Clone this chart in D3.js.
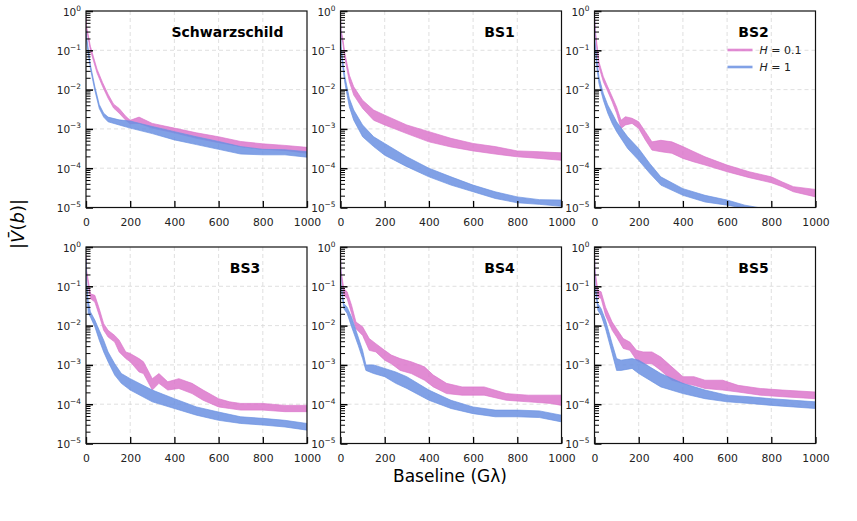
<!DOCTYPE html>
<html>
<head>
<script src="https://cdn.jsdelivr.net/npm/d3@7"></script>
<style>
html, body { margin: 0; padding: 0; background: #fff; }
svg { display: block; font-family: "DejaVu Sans", sans-serif; }
</style>
</head>
<body>
<div id="chart"></div>
<script>
// panel titles and legend labels
var panelNames = ["Schwarzschild", "BS1", "BS2", "BS3", "BS4", "BS5"];
var seriesNames = ["0.1", "1"];
var xTicks = [0, 200, 400, 600, 800, 1000];
var yDecades = [0, -1, -2, -3, -4, -5];

// bands: [baseline, log10 lower edge, log10 upper edge]
var schwH01 = [[0,-0.45,-0.1],[3,-0.48,-0.4],[20,-1.0,-0.9],[50,-1.58,-1.48],[75,-1.92,-1.82],[100,-2.22,-2.12],[125,-2.47,-2.37],[150,-2.6,-2.48],[180,-2.78,-2.68],[200,-2.87,-2.78],[240,-2.86,-2.7],[300,-2.98,-2.86],[400,-3.1,-2.98],[500,-3.24,-3.1],[600,-3.35,-3.2],[700,-3.45,-3.32],[800,-3.52,-3.38],[900,-3.55,-3.42],[1000,-3.62,-3.47]];
var schwH1 = [[0,-0.75,-0.5],[3,-0.8,-0.66],[20,-1.47,-1.37],[40,-2.02,-1.92],[60,-2.48,-2.38],[80,-2.7,-2.6],[100,-2.82,-2.7],[150,-2.9,-2.77],[200,-2.98,-2.8],[300,-3.12,-2.94],[400,-3.28,-3.07],[500,-3.4,-3.2],[600,-3.52,-3.32],[700,-3.64,-3.45],[800,-3.66,-3.52],[900,-3.66,-3.53],[1000,-3.72,-3.58]];
var bs1H01 = [[0,-0.6,-0.05],[3,-0.62,-0.5],[10,-0.8,-0.68],[20,-1.2,-1.08],[40,-1.8,-1.63],[60,-2.14,-1.93],[100,-2.48,-2.27],[150,-2.78,-2.52],[200,-2.9,-2.65],[300,-3.12,-2.9],[400,-3.33,-3.07],[500,-3.46,-3.24],[600,-3.56,-3.37],[700,-3.64,-3.45],[800,-3.71,-3.56],[900,-3.75,-3.58],[1000,-3.8,-3.61]];
var bs1H1 = [[0,-1.0,-0.1],[3,-1.05,-0.9],[10,-1.42,-1.25],[20,-1.84,-1.67],[40,-2.44,-2.22],[60,-2.78,-2.52],[100,-3.2,-2.9],[150,-3.45,-3.2],[200,-3.67,-3.37],[300,-3.96,-3.71],[400,-4.22,-4.0],[500,-4.43,-4.22],[600,-4.6,-4.43],[700,-4.77,-4.6],[800,-4.88,-4.73],[900,-4.92,-4.8],[1000,-4.97,-4.81]];
var bs2H01 = [[0,-0.6,-0.1],[5,-0.65,-0.55],[20,-1.42,-1.29],[40,-1.8,-1.67],[60,-2.05,-1.93],[80,-2.31,-2.18],[100,-2.6,-2.44],[120,-2.99,-2.78],[140,-2.9,-2.69],[170,-2.86,-2.73],[200,-2.99,-2.82],[230,-3.28,-3.07],[260,-3.54,-3.33],[300,-3.58,-3.29],[350,-3.62,-3.33],[400,-3.75,-3.45],[450,-3.84,-3.58],[500,-3.92,-3.71],[600,-4.09,-3.92],[700,-4.24,-4.09],[800,-4.37,-4.22],[850,-4.47,-4.35],[900,-4.6,-4.47],[1000,-4.73,-4.54]];
var bs2H1 = [[0,-0.9,-0.1],[3,-0.9,-0.78],[10,-1.42,-1.2],[20,-1.84,-1.67],[40,-2.27,-2.1],[60,-2.6,-2.39],[80,-2.86,-2.6],[100,-3.07,-2.82],[150,-3.5,-3.2],[200,-3.8,-3.5],[250,-4.13,-3.88],[300,-4.43,-4.22],[400,-4.69,-4.52],[500,-4.86,-4.69],[600,-4.94,-4.81],[680,-5.02,-4.94],[760,-5.12,-5.02]];
var bs3H01 = [[0,-0.7,-0.2],[3,-0.7,-0.6],[20,-1.31,-1.19],[40,-1.4,-1.23],[60,-1.74,-1.57],[80,-2.12,-1.95],[100,-2.29,-2.12],[130,-2.42,-2.25],[150,-2.67,-2.37],[180,-2.84,-2.67],[200,-2.92,-2.71],[240,-3.18,-2.84],[260,-3.22,-2.92],[300,-3.64,-3.35],[330,-3.47,-3.22],[370,-3.64,-3.43],[420,-3.6,-3.35],[480,-3.73,-3.47],[530,-3.9,-3.64],[600,-4.07,-3.86],[650,-4.11,-3.94],[700,-4.15,-3.98],[800,-4.15,-3.98],[900,-4.19,-4.03],[1000,-4.19,-4.03]];
var bs3H1 = [[0,-1.0,-0.3],[3,-1.0,-0.88],[10,-1.69,-1.36],[20,-1.78,-1.65],[40,-2.03,-1.86],[60,-2.37,-2.12],[80,-2.67,-2.37],[100,-2.92,-2.67],[130,-3.26,-2.97],[160,-3.47,-3.22],[200,-3.64,-3.35],[300,-3.94,-3.64],[400,-4.11,-3.86],[500,-4.28,-4.07],[600,-4.41,-4.2],[700,-4.49,-4.32],[800,-4.53,-4.36],[900,-4.58,-4.41],[1000,-4.66,-4.49]];
var bs4H01 = [[0,-0.75,-0.1],[3,-0.75,-0.62],[15,-1.23,-1.06],[30,-1.31,-1.14],[50,-1.69,-1.48],[70,-2.08,-1.91],[100,-2.25,-2.03],[130,-2.63,-2.33],[160,-2.67,-2.46],[200,-2.88,-2.63],[230,-2.97,-2.75],[270,-3.14,-2.84],[320,-3.22,-2.92],[380,-3.39,-3.05],[420,-3.56,-3.26],[480,-3.73,-3.47],[550,-3.77,-3.56],[650,-3.77,-3.56],[750,-3.9,-3.73],[850,-3.94,-3.77],[950,-3.98,-3.77],[1000,-4.03,-3.77]];
var bs4H1 = [[0,-1.05,-0.2],[3,-1.05,-0.95],[15,-1.57,-1.44],[30,-1.69,-1.53],[50,-2.03,-1.78],[80,-2.5,-2.29],[100,-2.84,-2.63],[115,-3.14,-3.0],[150,-3.22,-3.0],[200,-3.3,-3.09],[250,-3.47,-3.18],[300,-3.6,-3.3],[400,-3.9,-3.64],[500,-4.11,-3.9],[600,-4.24,-4.07],[700,-4.32,-4.15],[800,-4.32,-4.15],[900,-4.34,-4.17],[1000,-4.45,-4.28]];
var bs5H01 = [[0,-0.75,-0.1],[3,-0.75,-0.62],[15,-1.27,-1.1],[30,-1.31,-1.14],[50,-1.74,-1.53],[80,-2.12,-1.91],[100,-2.29,-2.08],[130,-2.58,-2.33],[160,-2.63,-2.42],[190,-2.88,-2.63],[220,-2.97,-2.67],[260,-2.97,-2.67],[300,-3.14,-2.8],[350,-3.39,-3.05],[400,-3.47,-3.3],[450,-3.52,-3.3],[500,-3.6,-3.39],[580,-3.64,-3.39],[650,-3.69,-3.52],[750,-3.77,-3.6],[850,-3.81,-3.64],[1000,-3.86,-3.69]];
var bs5H1 = [[0,-1.05,-0.2],[3,-1.05,-0.95],[15,-1.61,-1.44],[30,-1.74,-1.57],[50,-2.08,-1.86],[80,-2.71,-2.46],[100,-3.14,-2.84],[120,-3.14,-2.88],[170,-3.09,-2.84],[200,-3.22,-2.88],[250,-3.39,-3.05],[300,-3.56,-3.22],[400,-3.73,-3.47],[500,-3.86,-3.64],[600,-3.94,-3.77],[700,-3.98,-3.81],[800,-4.03,-3.86],[900,-4.07,-3.9],[1000,-4.11,-3.94]];

var panelData = [
    [schwH01, schwH1], [bs1H01, bs1H1], [bs2H01, bs2H1],
    [bs3H01, bs3H1], [bs4H01, bs4H1], [bs5H01, bs5H1]
];

var width = 857, height = 521;
var colors = ["#dc77cb", "#6b91e2"];
var colLeft = [86, 340.5, 594.5];
var rowTop = [11, 247];
var pw = 221, ph = 196.5;
var titleX = [0.64, 0.72, 0.72, 0.72, 0.72, 0.72];

var svg = d3.select("#chart").append("svg")
    .attr("width", width)
    .attr("height", height);

panelData.forEach(function(series, i){
    var left = colLeft[i % 3], top = rowTop[Math.floor(i / 3)];
    var g = svg.append("g").attr("transform", "translate(" + [left, top] + ")");

    var x = d3.scaleLinear().domain([0, 1000]).range([0, pw]);
    var y = d3.scaleLog().domain([1e-5, 1]).range([ph, 0]);

    // grid
    g.selectAll(".gx").data(xTicks.slice(1, -1)).enter().append("line")
        .attr("x1", function(d){ return x(d); }).attr("x2", function(d){ return x(d); })
        .attr("y1", 0).attr("y2", ph)
        .attr("stroke", "#d8d8d8").attr("stroke-width", 0.8).attr("stroke-dasharray", "4,3");
    g.selectAll(".gy").data(yDecades.slice(1, -1)).enter().append("line")
        .attr("y1", function(d){ return y(Math.pow(10, d)); }).attr("y2", function(d){ return y(Math.pow(10, d)); })
        .attr("x1", 0).attr("x2", pw)
        .attr("stroke", "#d8d8d8").attr("stroke-width", 0.8).attr("stroke-dasharray", "4,3");

    var clipId = "clip" + i;
    g.append("clipPath").attr("id", clipId).append("rect")
        .attr("width", pw).attr("height", ph);

    var area = d3.area()
        .x(function(d){ return x(d[0]); })
        .y0(function(d){ return y(Math.pow(10, d[1])); })
        .y1(function(d){ return y(Math.pow(10, d[2])); });

    var plot = g.append("g").attr("clip-path", "url(#" + clipId + ")");
    series.forEach(function(s, k){
        plot.append("path")
            .attr("d", area(s))
            .attr("fill", colors[k])
            .attr("fill-opacity", 0.85)
            .attr("stroke", colors[k])
            .attr("stroke-opacity", 0.85)
            .attr("stroke-width", 0.8);
    });

    // x axis, ticks pointing inward
    var xAxis = g.append("g").attr("transform", "translate(0," + ph + ")")
        .call(d3.axisBottom(x).tickValues(xTicks).tickSizeInner(-6.5).tickSizeOuter(0)
            .tickPadding(11).tickFormat(d3.format("d")));
    xAxis.select(".domain").remove();
    xAxis.selectAll("line").attr("stroke-width", 1.3);
    xAxis.selectAll("text").attr("font-size", 10.8).attr("fill", "#222")
        .attr("font-family", "DejaVu Sans");

    // y axis, majors and minors inward
    var majors = yDecades.map(function(d){ return Math.pow(10, d); });
    var minors = y.ticks().filter(function(v){
        return majors.every(function(m){ return Math.abs(v / m - 1) > 1e-6; });
    });
    var yAxis = g.append("g")
        .call(d3.axisLeft(y).tickValues(majors).tickSizeInner(-7).tickSizeOuter(0).tickFormat(""));
    yAxis.select(".domain").remove();
    yAxis.selectAll("line").attr("stroke-width", 1.5);
    var yMinor = g.append("g")
        .call(d3.axisLeft(y).tickValues(minors).tickSizeInner(-4.5).tickSizeOuter(0).tickFormat(""));
    yMinor.select(".domain").remove();
    yMinor.selectAll("line").attr("stroke-width", 1);

    var labels = g.selectAll(".ylab").data(yDecades).enter().append("text")
        .attr("x", -5)
        .attr("y", function(d){ return y(Math.pow(10, d)) + 4.5; })
        .attr("text-anchor", "end")
        .attr("fill", "#222");
    labels.append("tspan").attr("font-size", 10.5).text("10");
    labels.append("tspan").attr("font-size", 7.4).attr("dy", -5)
        .text(function(d){ return d === 0 ? "0" : "\u2212" + (-d); });

    // frame
    g.append("rect").attr("width", pw).attr("height", ph)
        .attr("fill", "none").attr("stroke", "#111").attr("stroke-width", 1.2);

    // title
    g.append("text")
        .attr("x", pw * titleX[i]).attr("y", 26)
        .attr("text-anchor", "middle")
        .attr("font-size", 14).attr("font-weight", "bold")
        .text(panelNames[i]);

    // legend in the third panel
    if (i === 2) {
        seriesNames.forEach(function(name, k){
            var ly = 39 + k * 17;
            g.append("line")
                .attr("x1", 133).attr("x2", 158)
                .attr("y1", ly).attr("y2", ly)
                .attr("stroke", colors[k]).attr("stroke-opacity", 0.85).attr("stroke-width", 2.6);
            var t = g.append("text").attr("x", 165).attr("y", ly + 4).attr("font-size", 11).attr("fill", "#222");
            t.append("tspan").attr("font-style", "italic").text("H");
            t.append("tspan").text(" = " + name);
        });
    }
});

// shared axis titles
svg.append("text")
    .attr("x", 450).attr("y", 482)
    .attr("text-anchor", "middle")
    .attr("font-size", 17)
    .text("Baseline (G\u03bb)");

var yl = svg.append("text")
    .attr("transform", "translate(24,224) rotate(-90)")
    .attr("text-anchor", "middle")
    .attr("font-size", 18);
yl.append("tspan").text("|");
yl.append("tspan").attr("font-style", "italic").text("V\u0304");
yl.append("tspan").text("(");
yl.append("tspan").attr("font-style", "italic").text("b");
yl.append("tspan").text(")|");
</script>
</body>
</html>
